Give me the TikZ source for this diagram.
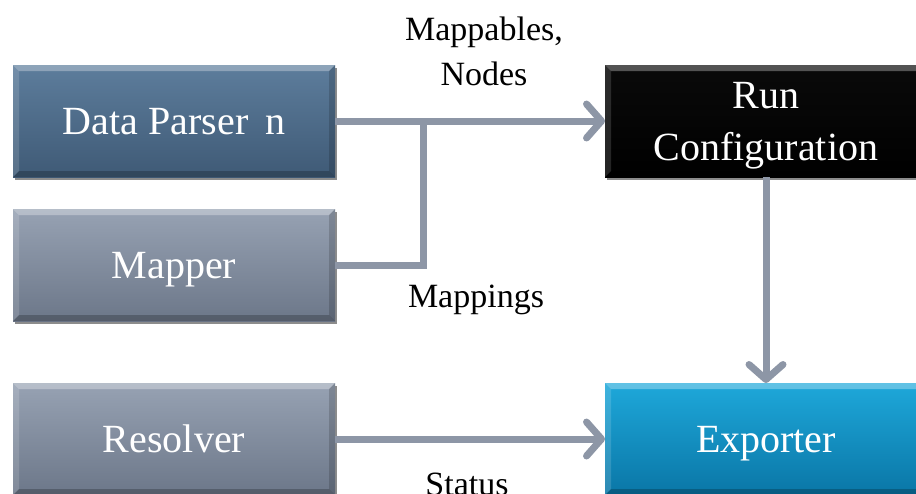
\documentclass[tikz,border=0pt]{standalone}
\usepackage{fontspec}
\setmainfont{Liberation Serif}
\usetikzlibrary{arrows.meta,shadows,calc}

\definecolor{arrowgray}{HTML}{8D96A6}
\definecolor{parsertop}{HTML}{5D7D9C}
\definecolor{parserbot}{HTML}{3F5A76}
\definecolor{greytop}{HTML}{97A2B3}
\definecolor{greybot}{HTML}{6C7789}
\definecolor{exptop}{HTML}{1EA8DA}
\definecolor{expbot}{HTML}{0A76A6}
\definecolor{blacktop}{HTML}{0A0A0A}

% bevelled edges of a box: #1 node name
\newcommand\bevelbox[1]{%
  \fill[white,opacity=.30] (#1.north west) -- (#1.north east)
    -- ([xshift=-6pt,yshift=-6pt]#1.north east) -- ([xshift=6pt,yshift=-6pt]#1.north west) -- cycle;
  \fill[white,opacity=.14] (#1.north west) -- ([xshift=6pt,yshift=-6pt]#1.north west)
    -- ([xshift=6pt,yshift=6pt]#1.south west) -- (#1.south west) -- cycle;
  \fill[black,opacity=.16] (#1.north east) -- ([xshift=-6pt,yshift=-6pt]#1.north east)
    -- ([xshift=-6pt,yshift=6pt]#1.south east) -- (#1.south east) -- cycle;
  \fill[black,opacity=.22] (#1.south west) -- ([xshift=6pt,yshift=6pt]#1.south west)
    -- ([xshift=-6pt,yshift=6pt]#1.south east) -- (#1.south east) -- cycle;
}

\tikzset{
  box/.style={minimum width=322pt, minimum height=112pt, inner sep=0pt, outer sep=0pt,
    text depth=0pt, text=white, align=center, font=\fontsize{40}{52}\selectfont,
    drop shadow={shadow xshift=1.5pt, shadow yshift=-3pt, opacity=.45, fill=black}},
  parserbox/.style={box, top color=parsertop, bottom color=parserbot},
  greybox/.style={box, top color=greytop, bottom color=greybot},
  blackbox/.style={box, top color=blacktop, bottom color=black},
  exportbox/.style={box, top color=exptop, bottom color=expbot},
  flowline/.style={draw=arrowgray, line width=7pt},
  flow/.style={flowline, -{Straight Barb[length=15pt,width=34pt,round]}},
  lbl/.style={text=black, align=center, inner sep=0pt, font=\fontsize{34}{45}\selectfont},
}

\begin{document}
\begin{tikzpicture}[x=1pt,y=-1pt]
  \useasboundingbox (0,0) rectangle (916,493);
  \fill[white] (0,0) rectangle (916,493);
  \clip (0,0) rectangle (916,493);

  % boxes
  \node[parserbox] (dp) at (174,121) {Data Parser\, n};
  \node[greybox] (mapper) at (174,265) {Mapper};
  \node[greybox] (resolver) at (174,439) {Resolver};
  \node[blackbox] (run) at (766,121) {Run\\Configuration};
  \node[exportbox] (exporter) at (766,439) {Exporter};
  \bevelbox{dp}
  \bevelbox{mapper}
  \bevelbox{resolver}
  \bevelbox{run}
  \bevelbox{exporter}

  % connectors
  \coordinate (join) at (423,121);
  \draw[flowline] (mapper.east) -| (join);
  \draw[flow] (dp.east) -- (run.west);
  \draw[flow] (run.south) -- (exporter.north);
  \draw[flow] (resolver.east) -- (exporter.west);

  % labels
  \node[lbl, anchor=north] (lmap) at (484,17) {Mappables,\\Nodes};
  \node[lbl, anchor=base] (lmaps) at (476,307) {Mappings};
  \node[lbl, anchor=base] (lstat) at (467,495) {Status};
\end{tikzpicture}
\end{document}
